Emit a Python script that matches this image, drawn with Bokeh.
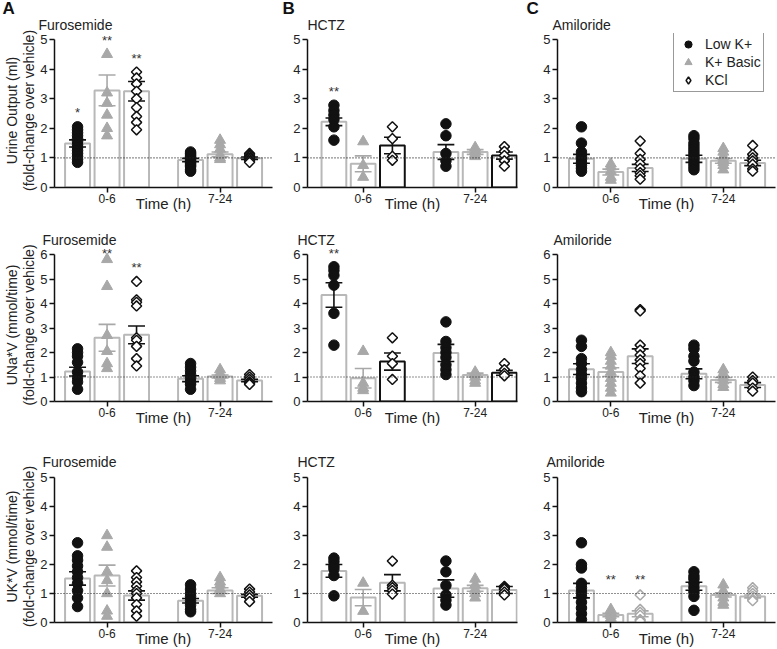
import numpy as np
from bokeh.plotting import figure
from bokeh.models import (Range1d, FixedTicker, Span, Label, Legend, LegendItem,
                          ColumnDataSource, Title)
from bokeh.layouts import column, row
from bokeh.embed import file_html
from bokeh.resources import INLINE

FONT = "Liberation Sans"

# ---------------- data ----------------
times = ["0-6", "7-24"]
groups = ["Low K+", "K+ Basic", "KCl"]
drugs = ["Furosemide", "HCTZ", "Amiloride"]
panel_letters = ["A", "B", "C"]
ylabels = ["Urine Output (ml)\n(fold-change over vehicle)",
           "UNa*V (mmol/time)\n(fold-change over vehicle)",
           "UK*V (mmol/time)\n(fold-change over vehicle)"]
ymax_rows = [5, 6, 5]
xlabel = "Time (h)"

# order in each list: 0-6 (Low K+, K+ Basic, KCl), 7-24 (Low K+, K+ Basic, KCl)
furo_uo_mean = [1.49, 3.28, 3.25, 0.93, 1.12, 0.99]
furo_uo_sem = [0.12, 0.52, 0.33, 0.06, 0.08, 0.04]
furo_uo_pts = [[2.05, 1.95, 1.85, 1.75, 1.65, 1.55, 1.45, 1.35, 1.25, 1.15, 1.05, 0.95, 0.85],
               [4.5, 3.2, 2.85, 2.45, 2.0, 1.75],
               [3.9, 3.7, 3.5, 3.25, 3.0, 2.7, 2.4, 2.2, 1.95],
               [1.2, 1.15, 1.1, 1.05, 1.0, 0.95, 0.9, 0.85, 0.8, 0.75, 0.7, 0.6, 0.55],
               [1.6, 1.45, 1.3, 1.1, 1.0, 0.95],
               [1.15, 1.1, 1.05, 1.0, 0.95, 0.9, 0.85]]
furo_uo_sig = ["*", "**", "**", "", "", ""]

hctz_uo_mean = [2.22, 0.80, 1.42, 1.20, 1.20, 1.08]
hctz_uo_sem = [0.13, 0.27, 0.28, 0.25, 0.08, 0.12]
hctz_uo_pts = [[2.78, 2.6, 2.45, 2.3, 2.05, 1.6],
               [1.55, 0.75, 0.35],
               [2.05, 1.65, 1.05, 0.92],
               [2.15, 1.75, 1.15, 0.9, 0.72],
               [1.35, 1.25, 1.15, 1.05],
               [1.38, 1.22, 1.08, 0.9, 0.72]]
hctz_uo_sig = ["**", "", "", "", "", ""]

amil_uo_mean = [0.97, 0.52, 0.66, 0.97, 0.90, 0.83]
amil_uo_sem = [0.15, 0.10, 0.12, 0.12, 0.08, 0.09]
amil_uo_pts = [[2.05, 1.5, 1.2, 1.05, 0.95, 0.85, 0.75, 0.65, 0.55],
               [0.8, 0.7, 0.55, 0.35, 0.25],
               [1.57, 1.15, 0.95, 0.8, 0.65, 0.5, 0.4, 0.28],
               [1.75, 1.65, 1.5, 1.4, 1.3, 1.2, 1.1, 1.0, 0.9, 0.8, 0.7, 0.6],
               [1.32, 1.2, 1.05, 0.95, 0.85, 0.75, 0.6],
               [1.42, 1.12, 1.0, 0.9, 0.78, 0.63, 0.55]]
amil_uo_sig = ["", "", "", "", "", ""]

furo_na_mean = [1.22, 2.60, 2.72, 0.93, 1.02, 0.86]
furo_na_sem = [0.18, 0.55, 0.36, 0.12, 0.06, 0.05]
furo_na_pts = [[2.15, 2.0, 1.85, 1.6, 1.2, 0.98, 0.8, 0.5],
               [5.8, 4.7, 2.7, 2.05, 1.55, 1.35],
               [4.9, 4.15, 4.05, 3.9, 2.6, 2.5, 2.25, 1.75, 1.45],
               [1.55, 1.4, 1.25, 1.1, 0.95, 0.8, 0.7, 0.5],
               [1.3, 1.15, 1.05, 0.95, 0.85],
               [1.1, 1.0, 0.9, 0.8, 0.75, 0.7]]
furo_na_sig = ["", "**", "**", "", "", ""]

hctz_na_mean = [4.35, 0.95, 1.63, 1.98, 1.08, 1.17]
hctz_na_sem = [0.50, 0.40, 0.35, 0.35, 0.08, 0.10]
hctz_na_pts = [[5.5, 5.35, 5.15, 4.75, 3.6, 2.3],
               [2.05, 0.75, 0.55, 0.45],
               [2.6, 1.85, 1.55, 0.9],
               [3.25, 2.45, 2.2, 2.0, 1.8, 1.5, 1.3, 1.1],
               [1.2, 1.1, 1.0, 0.85, 0.75],
               [1.55, 1.3, 1.15, 1.05]]
hctz_na_sig = ["**", "", "", "", "", ""]

amil_na_mean = [1.32, 1.20, 1.85, 1.13, 0.88, 0.67]
amil_na_sem = [0.22, 0.18, 0.30, 0.20, 0.10, 0.10]
amil_na_pts = [[2.5, 2.25, 1.75, 1.55, 1.3, 1.1, 0.95, 0.75, 0.55, 0.4],
               [2.0, 1.85, 1.65, 1.45, 1.2, 0.95, 0.75, 0.55, 0.35],
               [3.75, 3.7, 2.3, 2.1, 1.9, 1.7, 1.55, 1.35, 1.05, 0.75],
               [2.3, 2.15, 1.85, 1.65, 1.2, 1.0, 0.85, 0.65],
               [1.3, 1.15, 1.0, 0.85, 0.7, 0.58],
               [1.0, 0.85, 0.75, 0.55, 0.42]]
amil_na_sig = ["", "", "", "", "", ""]

furo_k_mean = [1.52, 1.62, 0.93, 0.75, 1.10, 0.92]
furo_k_sem = [0.23, 0.36, 0.16, 0.08, 0.10, 0.05]
furo_k_pts = [[2.75, 2.3, 2.15, 1.95, 1.75, 1.55, 1.35, 1.1, 0.85, 0.55],
              [3.0, 2.6, 1.75, 1.45, 1.0, 0.4, 0.22],
              [1.78, 1.55, 1.4, 1.25, 1.1, 1.0, 0.85, 0.62, 0.4, 0.22],
              [1.3, 1.15, 1.0, 0.9, 0.75, 0.6, 0.45, 0.37],
              [1.55, 1.4, 1.3, 1.15, 1.0],
              [1.15, 1.05, 0.95, 0.85, 0.72]]
furo_k_sig = ["", "", "", "", "", ""]

hctz_k_mean = [1.78, 0.86, 1.37, 1.17, 1.18, 1.12]
hctz_k_sem = [0.22, 0.28, 0.28, 0.30, 0.10, 0.12]
hctz_k_pts = [[2.22, 2.1, 1.95, 1.85, 1.62, 0.92],
              [1.36, 0.39],
              [2.12, 1.28, 1.2, 1.1, 0.98],
              [2.12, 1.75, 1.28, 0.95, 0.77, 0.6],
              [1.5, 1.3, 1.15, 1.0, 0.85],
              [1.25, 1.2, 1.15, 1.05, 0.95]]
hctz_k_sig = ["", "", "", "", "", ""]

amil_k_mean = [1.10, 0.26, 0.30, 1.25, 0.95, 0.90]
amil_k_sem = [0.25, 0.06, 0.10, 0.14, 0.07, 0.05]
amil_k_pts = [[2.75, 2.0, 1.88, 1.35, 1.2, 1.05, 0.9, 0.7, 0.5, 0.3, 0.1],
              [0.45, 0.35, 0.25, 0.15, 0.05],
              [0.95, 0.45, 0.35, 0.25, 0.1, 0.05],
              [1.75, 1.6, 1.5, 1.35, 1.2, 1.05, 0.9, 0.42],
              [1.3, 1.1, 1.0, 0.85, 0.7, 0.6],
              [1.2, 1.1, 1.0, 0.9, 0.8, 0.75]]
amil_k_sig = ["", "**", "**", "", "", ""]

panels = [
    [(furo_uo_mean, furo_uo_sem, furo_uo_pts, furo_uo_sig),
     (hctz_uo_mean, hctz_uo_sem, hctz_uo_pts, hctz_uo_sig),
     (amil_uo_mean, amil_uo_sem, amil_uo_pts, amil_uo_sig)],
    [(furo_na_mean, furo_na_sem, furo_na_pts, furo_na_sig),
     (hctz_na_mean, hctz_na_sem, hctz_na_pts, hctz_na_sig),
     (amil_na_mean, amil_na_sem, amil_na_pts, amil_na_sig)],
    [(furo_k_mean, furo_k_sem, furo_k_pts, furo_k_sig),
     (hctz_k_mean, hctz_k_sem, hctz_k_pts, hctz_k_sig),
     (amil_k_mean, amil_k_sem, amil_k_pts, amil_k_sig)],
]

# ---------------- layout / style ----------------
col_w = [280, 244, 253]
col_bl = [54, 27, 33]
col_br = [8, 7, 2]
x_starts = [0.535, 0.503, 0.526]
x_ends = [2.464, 2.378, 2.464]
row_h = [214, 217, 218]
row_bt = [33, 34, 39]
row_bb = [27, 30, 27]
headroom_px = [6, 6, 7]
title_offsets = [[-16, 0, -5], [-12, -10, -4], [-12, -10, -11]]
letter_offsets = [-52, -25, -31]

GRAY = "#a8a8a8"
BAR_GRAY = "#b8b8b8"
BLACK = "#111111"
DODGE = 0.261
BAR_W = 0.221
CAP = 0.075


def make_panel(r, c):
    mean, sem, pts, sig = panels[r][c]
    ymax = ymax_rows[r]
    fh = row_h[r] - row_bt[r] - row_bb[r]
    unit_px = (fh - headroom_px[r]) / ymax
    ytop = ymax + headroom_px[r] / unit_px
    p = figure(width=col_w[c], height=row_h[r],
               x_range=Range1d(x_starts[c], x_ends[c]), y_range=Range1d(0, ytop),
               output_backend="svg", toolbar_location=None,
               min_border_left=col_bl[c], min_border_right=col_br[c],
               min_border_top=row_bt[r], min_border_bottom=row_bb[r])
    p.title.visible = False
    p.outline_line_color = None
    p.xgrid.visible = False
    p.ygrid.visible = False
    p.background_fill_color = "white"
    p.border_fill_color = "white"

    # titles (drug name nearest the frame, panel letter above it)
    p.add_layout(Title(text=drugs[c], align="left", offset=title_offsets[r][c],
                       text_font=FONT, text_font_size="14px", text_font_style="normal",
                       text_color="#222222", standoff=1), "above")
    if r == 0:
        p.add_layout(Title(text=panel_letters[c], align="left", offset=letter_offsets[c],
                           text_font=FONT, text_font_size="17px", text_font_style="bold",
                           text_color="#111111", standoff=-7), "above")

    n = len(mean)
    xs, colors_line, err_colors = [], [], []
    kcl_black = (c == 1 and r in (0, 1))
    for i in range(n):
        t_idx, g_idx = divmod(i, len(groups))
        xs.append(t_idx + 1 + (g_idx - 1) * DODGE)
        colors_line.append(BLACK if (g_idx == 2 and kcl_black) else BAR_GRAY)
        if g_idx == 1 or (g_idx == 2 and r == 2 and c == 2):
            err_colors.append(GRAY)
        else:
            err_colors.append(BLACK)

    # bars
    p.vbar(x=xs, top=mean, width=BAR_W, bottom=0, fill_color="white",
           line_color=colors_line, line_width=2)

    # reference line at 1
    p.add_layout(Span(location=1, dimension="width", line_color="#222222",
                      line_dash="1 2", line_width=1.2, level="glyph"))

    # error bars (SEM)
    lo = [m - s for m, s in zip(mean, sem)]
    hi = [m + s for m, s in zip(mean, sem)]
    p.segment(x0=xs, y0=lo, x1=xs, y1=hi, line_color=err_colors, line_width=1.6)
    p.segment(x0=[x - CAP for x in xs], y0=hi, x1=[x + CAP for x in xs], y1=hi,
              line_color=err_colors, line_width=1.6)
    p.segment(x0=[x - CAP for x in xs], y0=lo, x1=[x + CAP for x in xs], y1=lo,
              line_color=err_colors, line_width=1.6)

    # individual points
    for i in range(n):
        t_idx, g_idx = divmod(i, len(groups))
        px = [xs[i]] * len(pts[i])
        if g_idx == 0:
            p.scatter(px, pts[i], marker="circle", size=10.5, fill_color=BLACK,
                      line_color=BLACK)
        elif g_idx == 1:
            p.scatter(px, pts[i], marker="triangle", size=11, fill_color=GRAY,
                      line_color=GRAY)
        else:
            lc = GRAY if (r == 2 and c == 2) else BLACK
            p.scatter(px, pts[i], marker="square", angle=np.pi / 4, size=7.2,
                      fill_color="white", line_color=lc, line_width=1.5)

    # significance stars
    for i in range(n):
        if sig[i]:
            y = max(max(pts[i]), 1.0) + 14.0 / unit_px
            y = min(y, ytop - 5.0 / unit_px)
            p.add_layout(Label(x=xs[i], y=y, text=sig[i], text_align="center",
                               text_baseline="middle", text_font=FONT,
                               text_font_size="13px", text_color="#333333"))

    # axes
    for ax in (p.xaxis[0], p.yaxis[0]):
        ax.axis_line_color = BLACK
        ax.axis_line_width = 1.5
        ax.major_tick_line_color = BLACK
        ax.major_tick_line_width = 1.5
        ax.major_tick_out = 5
        ax.major_tick_in = 0
        ax.minor_tick_line_color = None
        ax.major_label_text_font = FONT
        ax.major_label_text_color = "#222222"
    p.yaxis.major_label_text_font_size = "13px"
    p.yaxis.major_label_standoff = 2
    p.yaxis.ticker = FixedTicker(ticks=list(range(ymax + 1)))
    p.yaxis.bounds = (0, ymax)

    tick_pos = [t + 1 for t in range(len(times))]
    p.xaxis.ticker = FixedTicker(ticks=tick_pos)
    p.xaxis.major_label_overrides = {tp: lab for tp, lab in zip(tick_pos, times)}
    p.xaxis.major_label_text_font_size = "12px"
    p.xaxis.major_label_standoff = 1
    p.xaxis.axis_label = xlabel
    p.xaxis.axis_label_text_font = FONT
    p.xaxis.axis_label_text_font_size = "15px"
    p.xaxis.axis_label_text_font_style = "normal"
    p.xaxis.axis_label_text_color = "#222222"
    p.xaxis.axis_label_standoff = -11

    if c == 0:
        p.yaxis.axis_label = ylabels[r]
        p.yaxis.axis_label_text_font = FONT
        p.yaxis.axis_label_text_font_size = "14px"
        p.yaxis.axis_label_text_font_style = "normal"
        p.yaxis.axis_label_text_color = "#222222"
        p.yaxis.axis_label_text_line_height = 1.05
        p.yaxis.axis_label_standoff = 0

    # legend
    if r == 0 and c == 2:
        nan_src = ColumnDataSource(dict(x=[float("nan")], y=[float("nan")]))
        r1 = p.scatter("x", "y", source=nan_src, marker="circle", fill_color=BLACK,
                       line_color=BLACK)
        r2 = p.scatter("x", "y", source=nan_src, marker="triangle", fill_color=GRAY,
                       line_color=GRAY)
        r3 = p.scatter("x", "y", source=nan_src, marker="diamond", fill_color="white",
                       line_color=BLACK, line_width=1.5)
        legend = Legend(items=[LegendItem(label=groups[0], renderers=[r1]),
                               LegendItem(label=groups[1], renderers=[r2]),
                               LegendItem(label=groups[2], renderers=[r3])],
                        location=(116, fh - 59),
                        border_line_color="#333333", border_line_width=1.5,
                        background_fill_color="white", background_fill_alpha=1.0,
                        padding=2, spacing=0, margin=0,
                        glyph_height=18, glyph_width=24, label_standoff=5,
                        label_text_font=FONT, label_text_font_size="14px",
                        label_text_color="#222222", label_height=18)
        p.add_layout(legend)
    return p


rows = []
for r in range(3):
    rows.append(row(*[make_panel(r, c) for c in range(3)]))
layout = column(*rows)

open("out.html", "w").write(file_html(layout, INLINE))
